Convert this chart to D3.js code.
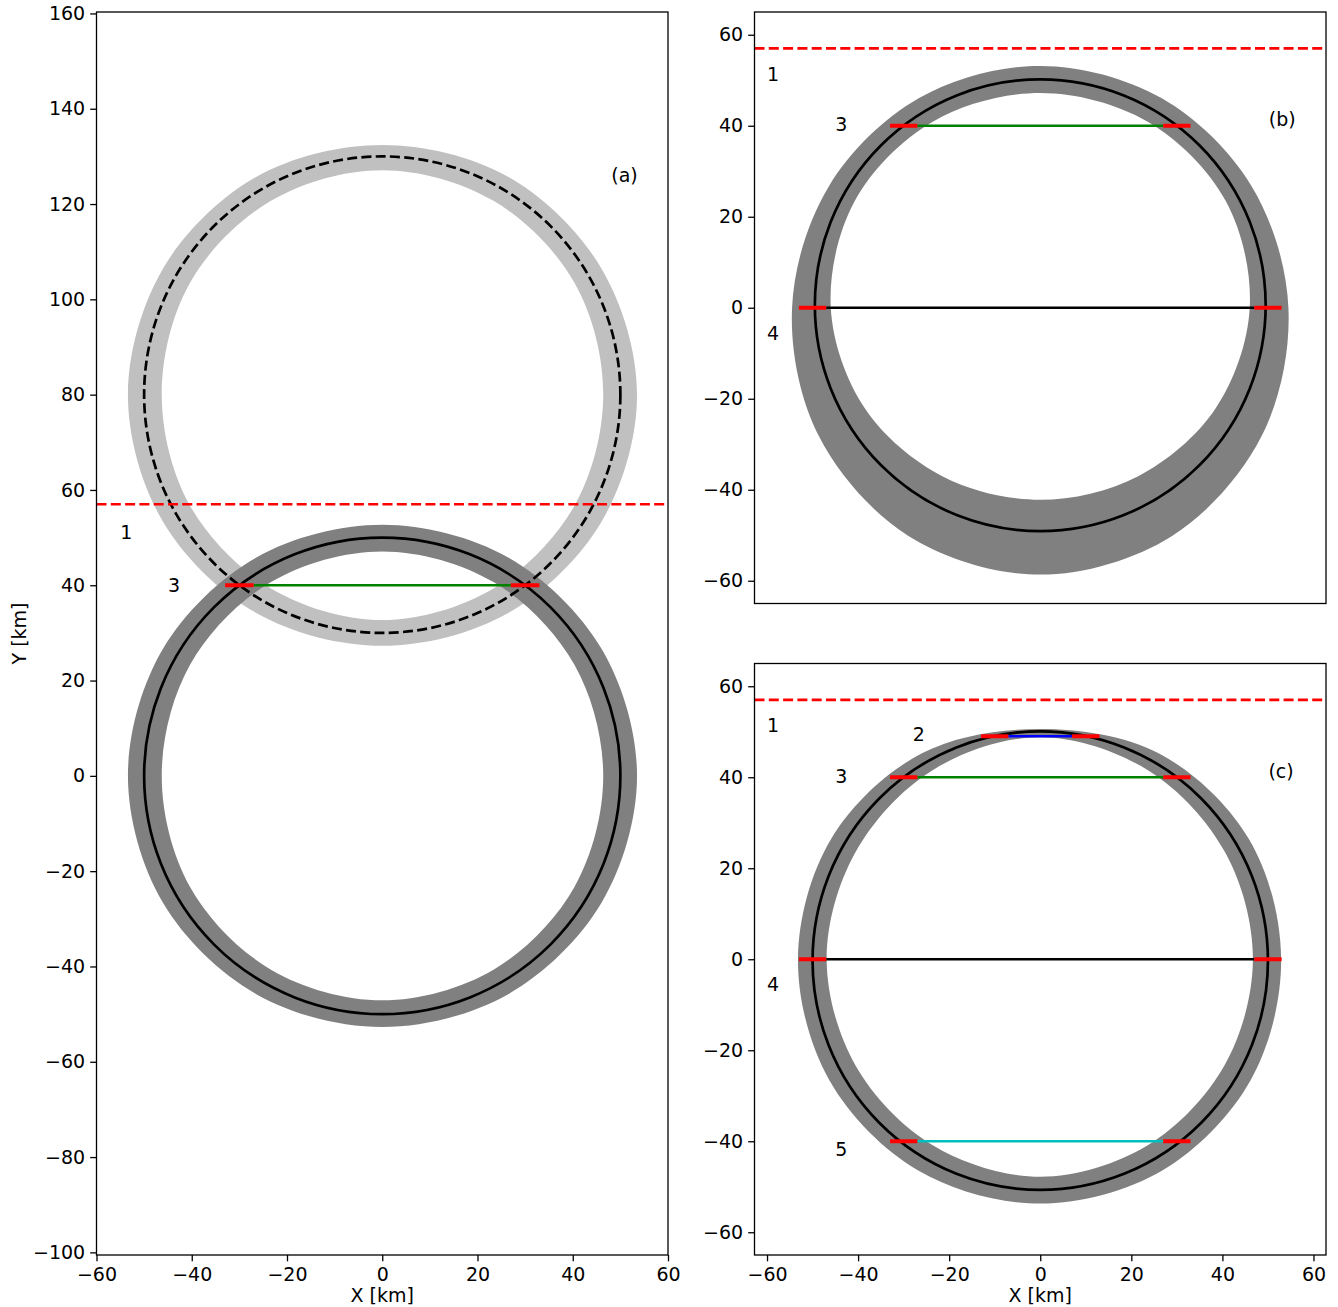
<!DOCTYPE html>
<html><head><meta charset="utf-8">
<script src="https://cdn.jsdelivr.net/npm/d3@7"></script>
<style>body{margin:0;background:#fff} text{font-family:"DejaVu Sans",sans-serif}</style>
</head><body><svg id="chart" width="1338" height="1307"></svg>
<script>
// ---------- data ----------
const ringAngles = [0, 30, 60, 90, 120, 150, 180, 210, 240, 270, 300, 330];
// panel (a) dark ring, centre (0,0)
const ringADarkOuter = [53.5, 53.2, 52.9, 52.7, 52.9, 53.2, 53.4, 53.2, 52.9, 52.7, 52.9, 53.2];
const ringADarkInner = [46.4, 46.6, 46.9, 47.1, 46.9, 46.6, 46.3, 46.6, 46.9, 47.1, 46.9, 46.6];
// panel (a) light ring, centre (0,80)
const ringALightOuter = [53.5, 53.1, 52.8, 52.4, 52.8, 53.1, 53.4, 53.2, 52.9, 52.7, 52.9, 53.2];
const ringALightInner = [46.4, 46.7, 46.9, 47.1, 46.9, 46.7, 46.3, 46.6, 46.9, 47.3, 46.9, 46.6];
// panel (b) ring, centre (0,0)
const ringBOuter = [54.5, 53.55, 53.2, 53.15, 53.2, 53.55, 54.5, 56.2, 57.9, 58.65, 57.9, 56.2];
const ringBInner = [46.0, 47.0, 47.2, 47.2, 47.2, 47.0, 46.0, 44.4, 42.8, 42.2, 42.8, 44.4];
// panel (c) ring, centre (0,0)
const ringCOuter = [52.9, 52.9, 52.2, 50.6, 52.2, 53.0, 53.2, 53.4, 53.6, 53.7, 53.6, 53.3];
const ringCInner = [46.7, 46.9, 47.8, 48.8, 47.8, 46.9, 46.9, 46.8, 47.2, 47.8, 47.2, 46.7];

// orbits (black curves): panel, centre y, radius x, radius y, dashed
const orbitPanel = ["a", "a", "b", "c"];
const orbitCy = [0, 80, 0.55, -0.3];
const orbitRx = [50, 50, 49.5, 50];
const orbitRy = [50, 50, 49.65, 50.4];
const orbitDashed = [false, true, false, false];

// horizontal red dashed level
const levelY = 57;

// chords
const chordPanel = ["a", "b", "b", "c", "c", "c", "c"];
const chordY = [40, 40, 0, 49, 40, 0, -40];
const chordHalf = [30, 30, 50, 10, 30, 50, 30];
const chordColor = ["#008000", "#008000", "#000000", "#0000ff", "#008000", "#000000", "#00bfbf"];
const tickHalf = 3;

// text labels
const labelPanel = ["a", "a", "a", "b", "b", "b", "b", "c", "c", "c", "c", "c", "c"];
const labelText = ["1", "3", "(a)", "1", "3", "4", "(b)", "1", "2", "3", "4", "5", "(c)"];
const labelX = [-55, -45, 48.1, -60, -45, -60, 50.2, -60, -28, -45, -60, -45, 50.1];
const labelY = [51.2, 40.1, 126, 51.4, 40.4, -5.5, 41.5, 51.4, 49.4, 40.2, -5.5, -41.7, 41.4];

// tick values
const ticksAX = [-60, -40, -20, 0, 20, 40, 60];
const ticksAY = [-100, -80, -60, -40, -20, 0, 20, 40, 60, 80, 100, 120, 140, 160];
const ticksBCX = [-60, -40, -20, 0, 20, 40, 60];
const ticksBCY = [-60, -40, -20, 0, 20, 40, 60];

// ---------- drawing ----------
const svg = d3.select("#chart");
const fmt = d => d < 0 ? "\u2212" + Math.abs(d) : String(d);
const FS = 19;

const panels = {
  a: {x0: 96.5, x1: 668, y0: 12, y1: 1255, xd: [-60, 60], yd: [-100.55, 160.3], xt: ticksAX, yt: ticksAY, showX: true},
  b: {x0: 754.5, x1: 1326, y0: 12, y1: 603.5, xd: [-62.75, 62.75], yd: [-65, 65], xt: ticksBCX, yt: ticksBCY, showX: false},
  c: {x0: 754.5, x1: 1326, y0: 663.5, y1: 1255, xd: [-62.75, 62.75], yd: [-65, 65], xt: ticksBCX, yt: ticksBCY, showX: true}
};

Object.entries(panels).forEach(([k, p]) => {
  p.x = d3.scaleLinear().domain(p.xd).range([p.x0, p.x1]);
  p.y = d3.scaleLinear().domain(p.yd).range([p.y1, p.y0]);
  svg.append("clipPath").attr("id", "clip-" + k).append("rect")
    .attr("x", p.x0).attr("y", p.y0).attr("width", p.x1 - p.x0).attr("height", p.y1 - p.y0);
  p.g = svg.append("g").attr("clip-path", `url(#clip-${k})`);
});

const ringLine = d3.line().curve(d3.curveCatmullRomClosed.alpha(0.5));
function ringPath(p, cy, outer, inner) {
  const pts = radii => radii.map((r, i) => {
    const a = ringAngles[i] * Math.PI / 180;
    return [p.x(r * Math.cos(a)), p.y(cy + r * Math.sin(a))];
  });
  return ringLine(pts(outer)) + ringLine(pts(inner));
}
function drawRing(k, cy, outer, inner, color) {
  const p = panels[k];
  p.g.append("path").attr("d", ringPath(p, cy, outer, inner))
    .attr("fill", color).attr("fill-rule", "evenodd").attr("stroke", "none");
}

drawRing("a", 80, ringALightOuter, ringALightInner, "#c0c0c0");
drawRing("a", 0, ringADarkOuter, ringADarkInner, "#808080");
drawRing("b", 0, ringBOuter, ringBInner, "#808080");
drawRing("c", 0, ringCOuter, ringCInner, "#808080");

orbitPanel.forEach((k, i) => {
  const p = panels[k];
  p.g.append("ellipse")
    .attr("cx", p.x(0)).attr("cy", p.y(orbitCy[i]))
    .attr("rx", p.x(orbitRx[i]) - p.x(0)).attr("ry", p.y(0) - p.y(orbitRy[i]))
    .attr("fill", "none").attr("stroke", "#000").attr("stroke-width", 2.7)
    .attr("stroke-dasharray", orbitDashed[i] ? "10,4.3" : null);
});

Object.values(panels).forEach(p => {
  p.g.append("line").attr("x1", p.x0).attr("x2", p.x1)
    .attr("y1", p.y(levelY)).attr("y2", p.y(levelY))
    .attr("stroke", "#ff0000").attr("stroke-width", 2.7).attr("stroke-dasharray", "10,4.3");
});

chordPanel.forEach((k, i) => {
  const p = panels[k];
  const y = p.y(chordY[i]), h = chordHalf[i];
  p.g.append("line").attr("x1", p.x(-h + tickHalf)).attr("x2", p.x(h - tickHalf))
    .attr("y1", y).attr("y2", y).attr("stroke", chordColor[i]).attr("stroke-width", 2.6);
  [-1, 1].forEach(s => {
    p.g.append("line").attr("x1", p.x(s * (h - tickHalf))).attr("x2", p.x(s * (h + tickHalf)))
      .attr("y1", y).attr("y2", y).attr("stroke", "#ff0000").attr("stroke-width", 4);
  });
});

labelPanel.forEach((k, i) => {
  const p = panels[k];
  svg.append("text").attr("x", p.x(labelX[i])).attr("y", p.y(labelY[i]))
    .attr("dy", "0.36em").attr("font-size", FS).attr("fill", "#000").text(labelText[i]);
});

// axes
Object.values(panels).forEach(p => {
  const yAx = d3.axisLeft(p.y).tickValues(p.yt).tickFormat(fmt).tickSize(6.3).tickPadding(5);
  const gy = svg.append("g").attr("transform", `translate(${p.x0},0)`).call(yAx);
  gy.select(".domain").remove();
  if (p.showX) {
    const xAx = d3.axisBottom(p.x).tickValues(p.xt).tickFormat(fmt).tickSize(6.3).tickPadding(6);
    const gx = svg.append("g").attr("transform", `translate(0,${p.y1})`).call(xAx);
    gx.select(".domain").remove();
  }
  svg.append("rect").attr("x", p.x0).attr("y", p.y0).attr("width", p.x1 - p.x0).attr("height", p.y1 - p.y0)
    .attr("fill", "none").attr("stroke", "#000").attr("stroke-width", 1.3);
});
svg.selectAll(".tick text").attr("font-size", FS).attr("font-family", "DejaVu Sans").attr("fill", "#000");
svg.selectAll(".tick line").attr("stroke", "#000").attr("stroke-width", 1.3);

svg.append("text").attr("x", panels.a.x(0)).attr("y", 1301.5).attr("text-anchor", "middle")
  .attr("font-size", FS).text("X [km]");
svg.append("text").attr("x", panels.c.x(0)).attr("y", 1301.5).attr("text-anchor", "middle")
  .attr("font-size", FS).text("X [km]");
svg.append("text").attr("transform", `translate(26,${(panels.a.y0 + panels.a.y1) / 2}) rotate(-90)`)
  .attr("text-anchor", "middle").attr("font-size", FS).text("Y [km]");
</script></body></html>
